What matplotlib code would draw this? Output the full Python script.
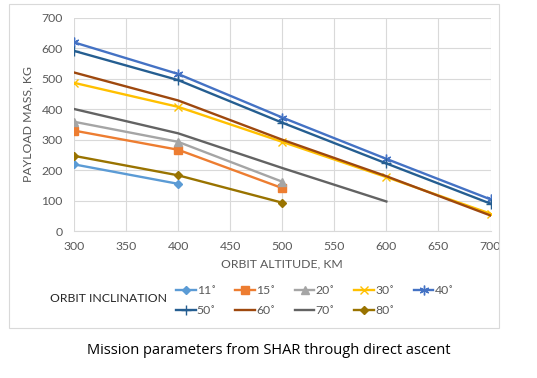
import matplotlib.pyplot as plt
from matplotlib.patches import Rectangle

plt.rcParams['font.family'] = ['Lato', 'DejaVu Sans']

altitude = [300, 400, 500, 600, 700]
inclinations = ['11˚', '15˚', '20˚', '30˚', '40˚', '50˚', '60˚', '70˚', '80˚']

mass_11 = [219, 155]
mass_15 = [330, 267, 141]
mass_20 = [359, 293, 162]
mass_30 = [487, 408, 293, 177, 57]
mass_40 = [620, 516, 373, 237, 104]
mass_50 = [592, 496, 356, 222, 90]
mass_60 = [521, 429, 300, 180, 51]
mass_70 = [401, 321, 207, 97]
mass_80 = [247, 183, 93]

series = [mass_11, mass_15, mass_20, mass_30, mass_40, mass_50, mass_60, mass_70, mass_80]
colors = ['#5B9BD5', '#ED7D31', '#A5A5A5', '#FFC000', '#4472C4',
          '#255E91', '#9E480E', '#636363', '#997300']
markers = ['D', 's', '^', 'x', (6, 2, 0), '+', None, None, 'D']
msizes = [4, 5.5, 5.5, 6, 7, 7, 0, 0, 4]

fig = plt.figure(figsize=(5.37, 3.78), dpi=100)
fig.patches.append(Rectangle((9 / 537, 1 - 328 / 378), 490 / 537, 324 / 378,
                             transform=fig.transFigure, fill=False,
                             edgecolor='#D9D9D9', linewidth=0.8))

ax = fig.add_axes([74 / 537, 1 - 231 / 378, 416.5 / 537, 213 / 378])

handles = []
for vals, c, m, ms, lab in zip(series, colors, markers, msizes, inclinations):
    h, = ax.plot(altitude[:len(vals)], vals, color=c, linewidth=1.7,
                 marker=m, markersize=ms, markeredgewidth=1.0, label=lab)
    handles.append(h)

ax.set_xlim(300, 700)
ax.set_ylim(0, 700)
ax.set_xticks(range(300, 701, 50))
ax.set_yticks(range(0, 701, 100))
ax.grid(True, color='#D9D9D9', linewidth=0.8)
ax.set_axisbelow(True)
for s in ['top', 'right', 'left']:
    ax.spines[s].set_visible(False)
ax.spines['bottom'].set_color('#D9D9D9')
ax.tick_params(length=0, labelsize=8.8, colors='#595959')
ax.tick_params(axis='y', pad=8)
ax.tick_params(axis='x', pad=7)
ax.set_xlabel('ORBIT ALTITUDE, KM', fontsize=8.8, color='#595959', labelpad=5)
ax.set_ylabel('PAYLOAD MASS, KG', fontsize=8.8, color='#595959', labelpad=6)

fig.text(50 / 537, 1 - 298 / 378, 'ORBIT INCLINATION', fontsize=8.8,
         color='#262626', va='center', ha='left')

# legend fills column by column, so interleave to get two rows
order = [0, 5, 1, 6, 2, 7, 3, 8, 4]
fig.legend(handles=[handles[i] for i in order], ncol=5, loc='upper left',
           bbox_to_anchor=(176 / 537, 1 - 285 / 378), frameon=False,
           fontsize=8.8, labelcolor='#595959', handlelength=1.6,
           handletextpad=0.1, columnspacing=1.6, borderpad=0, borderaxespad=0,
           labelspacing=0.75)

fig.text(269 / 537, 1 - 351 / 378, 'Mission parameters from SHAR through direct ascent',
         fontsize=10.5, family=['Open Sans', 'DejaVu Sans'], ha='center', va='center',
         color='black')

fig.savefig('out.png', dpi=100)
